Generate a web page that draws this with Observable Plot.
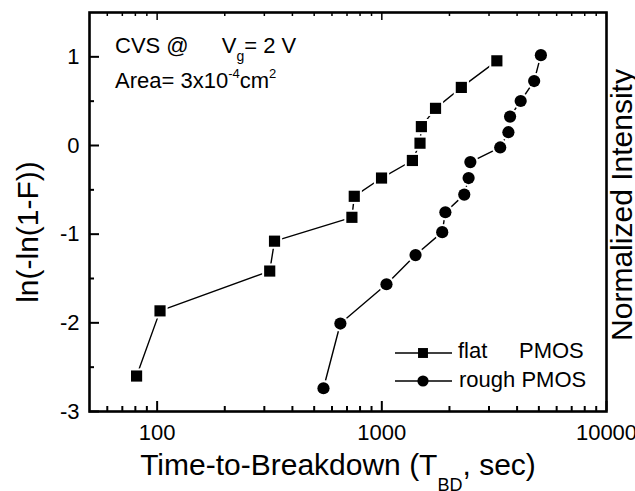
<!DOCTYPE html>
<html><head><meta charset="utf-8">
<script src="https://cdn.jsdelivr.net/npm/d3@7"></script>
<script src="https://cdn.jsdelivr.net/npm/@observablehq/plot@0.6"></script>
<style>html,body{margin:0;padding:0;background:#fff;overflow:hidden} svg{display:block}</style>
</head><body><div id="chart"></div>
<script>
// ---- data ----
const flatTime = [81, 103, 317, 333, 736, 754, 997, 1368, 1479, 1500, 1734, 2259, 3251];
const flatLn   = [-2.60, -1.865, -1.416, -1.079, -0.81, -0.573, -0.367, -0.169, 0.026, 0.213, 0.419, 0.655, 0.955];
const roughTime = [550, 654, 1049, 1413, 1857, 1918, 2328, 2434, 2478, 3365, 3659, 3722, 4150, 4764, 5105];
const roughLn   = [-2.738, -2.008, -1.565, -1.236, -0.977, -0.753, -0.554, -0.367, -0.187, -0.022, 0.15, 0.326, 0.502, 0.727, 1.019];
const seriesNames = ["flat", "rough"];
const xTicks = [100, 1000, 10000];
const xMinorTicks = [60, 70, 80, 90, 200, 300, 400, 500, 600, 700, 800, 900, 2000, 3000, 4000, 5000, 6000, 7000, 8000, 9000];
const yTicks = [-3, -2, -1, 0, 1];
const yMinorTicks = [-2.5, -1.5, -0.5, 0.5];

const W = 635, H = 491, mL = 89, mR = 29, mT = 12, mB = 80;
const fw = W - mL - mR, fh = H - mT - mB;
const FONT = "'Liberation Sans', Arial, Helvetica, sans-serif";

const flat = flatTime.map((t, i) => ({t, v: flatLn[i]}));
const rough = roughTime.map((t, i) => ({t, v: roughLn[i]}));

const plot = Plot.plot({
  width: W, height: H,
  marginLeft: mL, marginRight: mR, marginTop: mT, marginBottom: mB,
  style: {fontFamily: FONT, fontSize: "22px", color: "black", background: "white"},
  x: {type: "log", domain: [50, 10000], ticks: xTicks, tickFormat: d => String(d), tickSize: 0, tickPadding: 13, label: null},
  y: {domain: [-3, 1.5], ticks: yTicks, tickFormat: d => String(d), tickSize: 0, tickPadding: 10, label: null},
  marks: [
    // inward ticks
    Plot.tickX(xTicks, {x: d => d, insetTop: fh - 10, strokeWidth: 2, stroke: "black"}),
    Plot.tickX(xMinorTicks, {x: d => d, insetTop: fh - 5, strokeWidth: 2, stroke: "black"}),
    Plot.tickX(xTicks, {x: d => d, insetBottom: fh - 8, strokeWidth: 1.5, stroke: "black"}),
    Plot.tickX(xMinorTicks, {x: d => d, insetBottom: fh - 4, strokeWidth: 1.5, stroke: "black"}),
    Plot.tickY(yTicks, {y: d => d, insetRight: fw - 10, strokeWidth: 2, stroke: "black"}),
    Plot.tickY(yMinorTicks, {y: d => d, insetRight: fw - 5, strokeWidth: 2, stroke: "black"}),
    // series lines
    Plot.line(flat, {x: "t", y: "v", stroke: "black", strokeWidth: 1.4}),
    Plot.line(rough, {x: "t", y: "v", stroke: "black", strokeWidth: 1.4}),
    // white halos to leave gaps between line and markers
    Plot.dot(flat, {x: "t", y: "v", symbol: "square", r: 8.6, fill: "white"}),
    Plot.dot(rough, {x: "t", y: "v", symbol: "circle", r: 8.2, fill: "white"}),
    // markers
    Plot.dot(flat, {x: "t", y: "v", symbol: "square", r: 6.3, fill: "black"}),
    Plot.dot(rough, {x: "t", y: "v", symbol: "circle", r: 6.1, fill: "black"}),
    Plot.frame({stroke: "black", strokeWidth: 2.6})
  ]
});
document.getElementById("chart").appendChild(plot);

const svg = d3.select(plot);
function txt(x, y, size, anchor, rotate) {
  const t = svg.append("text")
    .attr("font-family", FONT).attr("font-size", size).attr("fill", "black")
    .attr("text-anchor", anchor || "start");
  if (rotate) t.attr("transform", `translate(${x},${y}) rotate(${rotate})`);
  else t.attr("x", x).attr("y", y);
  return t;
}

// axis titles
const xt = txt(338, 475, 30, "middle");
xt.append("tspan").text("Time-to-Breakdown (T");
xt.append("tspan").attr("font-size", 18).attr("dy", 16).text("BD");
xt.append("tspan").attr("dy", -16).text(", sec)");
txt(38, 232, 30, "middle", -90).text("ln(-ln(1-F))");
txt(632, 205, 30, "middle", -90).text("Normalized Intensity");

// inset annotation
const a1 = txt(115, 53, 22);
a1.append("tspan").text("CVS @");
a1.append("tspan").attr("dx", 33).text("V");
a1.append("tspan").attr("font-size", 14).attr("dy", 8).text("g");
a1.append("tspan").attr("dy", -8).text("= 2 V");
const a2 = txt(115, 88, 22);
a2.append("tspan").text("Area= 3x10");
a2.append("tspan").attr("font-size", 13).attr("dy", -10).text("-4");
a2.append("tspan").attr("dy", 10).text("cm");
a2.append("tspan").attr("font-size", 13).attr("dy", -10).text("2");

// legend
const legRows = [{y: 353, sym: d3.symbolSquare}, {y: 381, sym: d3.symbolCircle}];
legRows.forEach(r => {
  svg.append("line").attr("x1", 395).attr("x2", 452).attr("y1", r.y).attr("y2", r.y)
    .attr("stroke", "black").attr("stroke-width", 1.4);
  svg.append("path").attr("d", d3.symbol(r.sym, Math.PI * 5.6 * 5.6)()).attr("transform", `translate(423,${r.y})`).attr("fill", "black");
});
txt(458, 358, 22).text(seriesNames[0]);
txt(519, 358, 22).text("PMOS");
txt(459, 387, 22).text(seriesNames[1] + " PMOS");
</script>
</body></html>
